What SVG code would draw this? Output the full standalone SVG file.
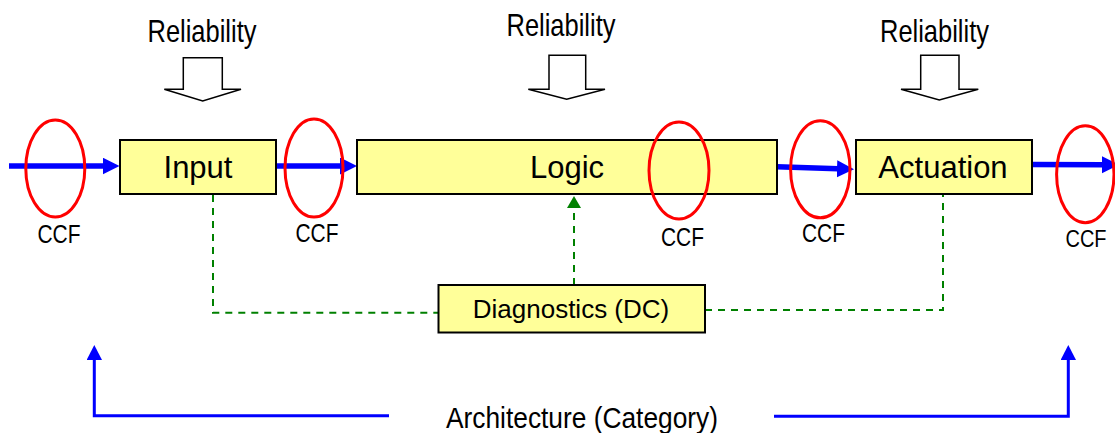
<svg xmlns="http://www.w3.org/2000/svg" width="1115" height="433" viewBox="0 0 1115 433">
<style>
.box{fill:#FFFF99;stroke:#000;stroke-width:2}
.lbl{font-family:"Liberation Sans",Arial,sans-serif;fill:#000;text-anchor:middle}
.big{font-size:31px}
.ccf{font-size:25px}
.rel{font-size:30.5px}
.ccfel{fill:none;stroke:#FF0000;stroke-width:3}
.blue{stroke:#0000FF;stroke-width:5.5;fill:none}
.blue2{stroke:#0000FF;stroke-width:3;fill:none}
.dash{stroke:#008000;stroke-width:2;stroke-dasharray:7 6;fill:none}
.barrow{fill:#fff;stroke:#000;stroke-width:1.5;stroke-linejoin:miter}
</style>
<defs>
<marker id="ahB" markerUnits="userSpaceOnUse" markerWidth="18" markerHeight="18" refX="1" refY="8.5" orient="auto">
<path d="M0,0 L17,8.5 L0,17 Z" fill="#0000FF"/>
</marker>
<marker id="ahS" markerUnits="userSpaceOnUse" markerWidth="16" markerHeight="16" refX="1" refY="7.7" orient="auto">
<path d="M0,0 L15,7.7 L0,15.4 Z" fill="#0000FF"/>
</marker>
<marker id="ahG" markerUnits="userSpaceOnUse" markerWidth="13" markerHeight="15" refX="1" refY="7" orient="auto">
<path d="M0,0 L12,7 L0,14 Z" fill="#008000"/>
</marker>
</defs>

<g id="reliability">
<text class="lbl rel" x="202" y="42" textLength="109" lengthAdjust="spacingAndGlyphs">Reliability</text>
<polygon class="barrow" points="183.3,57.7 222.3,57.7 222.3,89.3 241,89.3 202.7,101 164.3,89.3 183.3,89.3"/>
<text class="lbl rel" x="561" y="36" textLength="109" lengthAdjust="spacingAndGlyphs">Reliability</text>
<polygon class="barrow" points="549,55.3 585.7,55.3 585.7,89.3 605,89.3 566.7,99.3 528.3,89.3 549,89.3"/>
<text class="lbl rel" x="934.5" y="41.5" textLength="109" lengthAdjust="spacingAndGlyphs">Reliability</text>
<polygon class="barrow" points="920.7,55.3 959,55.3 959,89.3 978.3,89.3 939.3,100 901,89.3 920.7,89.3"/>
</g>

<g id="connectors">
<line class="blue" x1="9" y1="166" x2="103.5" y2="166" marker-end="url(#ahB)"/>
<line class="blue" x1="276" y1="166" x2="341" y2="166" marker-end="url(#ahB)"/>
<line class="blue" x1="777" y1="166.7" x2="838" y2="168.8" marker-end="url(#ahB)"/>
<line class="blue" x1="1032" y1="164.5" x2="1103" y2="164.8" marker-end="url(#ahB)"/>
<polyline class="dash" points="213,195 213,312.7 438,312.7"/>
<polyline class="dash" points="705,310 943,310 943,195"/>
<line class="dash" x1="574" y1="285" x2="574" y2="207" marker-end="url(#ahG)"/>
<polyline class="blue2" points="389,415.7 94.3,415.7 94.3,359" marker-end="url(#ahS)"/>
<polyline class="blue2" points="774,416.3 1068.3,416.3 1068.3,359" marker-end="url(#ahS)"/>
</g>

<g id="input">
<rect class="box" x="120" y="140" width="156" height="54"/>
<text class="lbl big" x="198" y="178">Input</text>
</g>
<g id="logic">
<rect class="box" x="357" y="140" width="420" height="54"/>
<text class="lbl big" x="567" y="178">Logic</text>
</g>
<g id="actuation">
<rect class="box" x="856" y="140" width="176" height="54"/>
<text class="lbl big" x="943" y="178">Actuation</text>
</g>
<g id="diagnostics">
<rect class="box" x="438.5" y="285" width="266.5" height="47.5"/>
<text class="lbl" style="font-size:26px" x="571" y="318">Diagnostics (DC)</text>
</g>

<g id="ccf">
<ellipse class="ccfel" cx="55.3" cy="168.5" rx="29.5" ry="48.5"/>
<text class="lbl ccf" x="59" y="243.3" textLength="43" lengthAdjust="spacingAndGlyphs">CCF</text>
<ellipse class="ccfel" cx="314" cy="168" rx="29" ry="49"/>
<text class="lbl ccf" x="317" y="241.7" textLength="43" lengthAdjust="spacingAndGlyphs">CCF</text>
<ellipse class="ccfel" cx="679" cy="170.5" rx="30" ry="48.5"/>
<text class="lbl ccf" x="682.5" y="245.7" textLength="43" lengthAdjust="spacingAndGlyphs">CCF</text>
<ellipse class="ccfel" cx="820.3" cy="169.3" rx="29.7" ry="48.5"/>
<text class="lbl ccf" x="823.5" y="241.7" textLength="43" lengthAdjust="spacingAndGlyphs">CCF</text>
<ellipse class="ccfel" cx="1085.3" cy="174.2" rx="28.7" ry="48.5"/>
<text class="lbl" style="font-size:23px" x="1086" y="246.7" textLength="41" lengthAdjust="spacingAndGlyphs">CCF</text>
</g>

<g id="architecture">
<text class="lbl" style="font-size:30px" x="582" y="428" textLength="272" lengthAdjust="spacingAndGlyphs">Architecture (Category)</text>
</g>
</svg>
